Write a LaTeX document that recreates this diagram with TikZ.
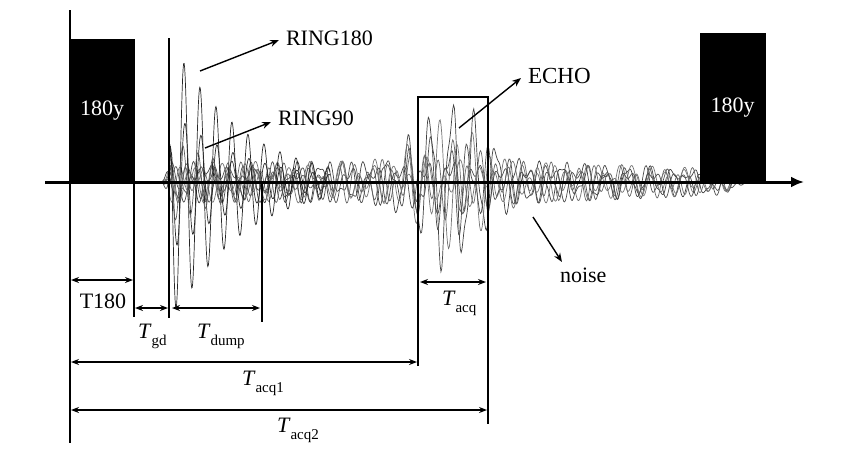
\documentclass[tikz,border=0pt]{standalone}
\usepackage{fontspec}
\setmainfont{Liberation Serif}
\usetikzlibrary{arrows.meta}
\newcommand{\Tlab}[1]{\textit{T}\raisebox{-0.32em}{\fontsize{15}{16}\selectfont #1}}
\begin{document}
\begin{tikzpicture}[x=1pt,y=-1pt,
  lbl/.style={font=\fontsize{22}{24}\selectfont, inner sep=0pt, outer sep=0pt},
  pulse/.style={fill=black, draw=black, text=white, inner sep=0pt, font=\fontsize{22}{24}\selectfont},
  dimarr/.style={line width=1.3pt, {Stealth[length=8pt,width=6pt]}-{Stealth[length=8pt,width=6pt]}},
  vline/.style={line width=1.7pt},
  ptr/.style={line width=1.4pt, -{Stealth[length=9pt,width=7pt]}},
  trace/.style={line width=0.7pt, draw=black!65},
  ringtr/.style={line width=0.7pt, draw=black!85},
  declare function={
    rmp(\x)=min(1,max(0,(\x-162)/10))*min(1,max(0,(748-\x)/25));
    ev(\x,\e)=rmp(\x)*(21-9*max(0,\x-540)/208+\e*exp(-min(((\x-450)/42)^2,30)));
    nz(\x,\s,\w)=sin(360*mod(\x+\s,\w)/\w);
    ri(\x)=min(1,max(0,(\x-169)/3))*126*exp(-max(\x-180,0)/70);
  }]
\useasboundingbox (0,0) rectangle (848,456);

% --- signal traces ---
\draw[trace, draw=black!75] plot[domain=160:748, samples=700] (\x, {182 - ev(\x,72)*(0.8*nz(\x,15.5,22)+0.2*nz(\x,3,9.3))});
\draw[trace, draw=black!55] plot[domain=160:748, samples=700] (\x, {182 - ev(\x,50)*(0.7*nz(\x,4,16.3)+0.3*nz(\x,7,31.1))});
\draw[trace, draw=black!70] plot[domain=160:748, samples=700] (\x, {182 - ev(\x,35)*(0.65*nz(\x,9,19.7)+0.35*nz(\x,1,11.3))});
\draw[trace, draw=black!60] plot[domain=160:748, samples=700] (\x, {182 - ev(\x,22)*(0.7*nz(\x,2,14.1)+0.3*nz(\x,6,23.9))});
\draw[trace, draw=black!70] plot[domain=160:748, samples=700] (\x, {182 - ev(\x,12)*(0.6*nz(\x,11,25.3)+0.4*nz(\x,4,12.7))});
\draw[trace, draw=black!55] plot[domain=160:748, samples=700] (\x, {182 - ev(\x,5)*(0.6*nz(\x,5,17.1)+0.4*nz(\x,13,28.9))});
% ringing
\draw[ringtr] plot[domain=169:330, samples=320] (\x, {182 - ri(\x)*cos(22.5*(\x-184))});
\draw[ringtr] plot[domain=169:330, samples=320] (\x, {182 - 0.5*ri(\x)*cos(22.5*(\x-185))});
\draw[ringtr, draw=black!65] plot[domain=169:330, samples=320] (\x, {182 - 0.3*ri(\x)*cos(24*(\x-183))});

% --- pulses ---
\node[pulse, minimum width=64pt, minimum height=143pt, anchor=south west] (p1) at (70,182) {180y};
\node[pulse, minimum width=65pt, minimum height=149pt, anchor=south west] (p2) at (700,182) {180y};

% --- axes ---
\coordinate (ax0) at (45,182);
\coordinate (ax1) at (804,182);
\draw[line width=3pt, -{Latex[length=13pt,width=11pt]}] (ax0) -- (ax1);
\coordinate (ya) at (70,10);
\coordinate (yb) at (70,443);
\draw[line width=1.1pt] (ya) -- (yb);

% --- vertical markers ---
\coordinate (v1a) at (134,182); \coordinate (v1b) at (134,317);
\coordinate (v2a) at (169,38);  \coordinate (v2b) at (169,318);
\coordinate (v3a) at (262,182); \coordinate (v3b) at (262,322);
\draw[vline] (v1a) -- (v1b);
\draw[line width=1.2pt] (v2a) -- (v2b);
\draw[vline] (v3a) -- (v3b);

% --- echo window ---
\coordinate (e1) at (418,366); \coordinate (e2) at (418,97);
\coordinate (e3) at (488,97);  \coordinate (e4) at (488,424);
\draw[line width=1.8pt] (e1) -- (e2) -- (e3) -- (e4);

% --- dimension arrows ---
\coordinate (d1a) at (71,280);  \coordinate (d1b) at (133,280);
\coordinate (d2a) at (135,308); \coordinate (d2b) at (168,308);
\coordinate (d3a) at (172,308); \coordinate (d3b) at (260,308);
\coordinate (d4a) at (420,282); \coordinate (d4b) at (486,282);
\coordinate (d5a) at (71,362);  \coordinate (d5b) at (417,362);
\coordinate (d6a) at (71,410);  \coordinate (d6b) at (487,410);
\draw[dimarr] (d1a) -- (d1b);
\draw[dimarr] (d2a) -- (d2b);
\draw[dimarr] (d3a) -- (d3b);
\draw[dimarr] (d4a) -- (d4b);
\draw[dimarr] (d5a) -- (d5b);
\draw[dimarr] (d6a) -- (d6b);

% --- labels ---
\node[lbl] (t180) at (103,301) {T180};
\node[lbl, anchor=base west] (tgd) at (138,338) {\Tlab{gd}};
\node[lbl, anchor=base west] (tdump) at (197,338) {\Tlab{dump}};
\node[lbl, anchor=base west] (tacq) at (442,305) {\Tlab{acq}};
\node[lbl, anchor=base west] (tacq1) at (242,385) {\Tlab{acq1}};
\node[lbl, anchor=base west] (tacq2) at (277,432) {\Tlab{acq2}};

\node[lbl, anchor=west] (r180) at (286,38.5) {RING180};
\node[lbl, anchor=west] (r90) at (278,118.5) {RING90};
\node[lbl, anchor=west, font=\fontsize{23}{25}\selectfont] (echo) at (528,75.5) {ECHO};
\node[lbl, anchor=base west] (noise) at (560,282) {noise};

% --- pointers ---
\coordinate (q1) at (200,71);  \coordinate (q1e) at (279,40);
\coordinate (q2) at (205,148); \coordinate (q2e) at (271,122);
\coordinate (q3) at (459,128); \coordinate (q3e) at (521,78);
\coordinate (q4) at (533,217); \coordinate (q4e) at (562,262);
\draw[ptr] (q1) -- (q1e);
\draw[ptr] (q2) -- (q2e);
\draw[ptr] (q3) -- (q3e);
\draw[ptr] (q4) -- (q4e);
\end{tikzpicture}
\end{document}
